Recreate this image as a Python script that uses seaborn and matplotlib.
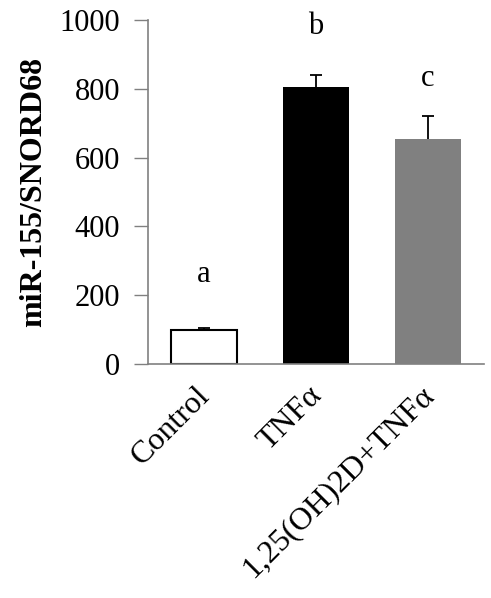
import matplotlib
matplotlib.use('Agg')
import matplotlib.pyplot as plt
import matplotlib.transforms as mtransforms
import seaborn as sns
import numpy as np

# data
groups = ['Control', 'TNFα', '1,25(OH)2D+TNFα']
values = [100, 804, 653]
errors = [5, 36, 67]
letters = ['a', 'b', 'c']
letter_y = [259, 980, 829]
colors = ['white', 'black', '#808080']
edges = ['black', 'none', 'none']

sns.set_style('white')
plt.rcParams['font.family'] = ['Liberation Serif', 'DejaVu Serif']
plt.rcParams['text.color'] = 'black'
plt.rcParams['xtick.color'] = 'black'
plt.rcParams['ytick.color'] = 'black'
plt.rcParams['axes.labelcolor'] = 'black'

fig = plt.figure(figsize=(4.91, 5.98), dpi=100)
ax = fig.add_axes([0.301, 0.391, 0.685, 0.576])

sns.barplot(x=groups, y=values, hue=groups, palette=colors, edgecolor='black',
            linewidth=1.5, width=0.59, legend=False, ax=ax)
for p, ec in zip(ax.patches, edges):
    p.set_edgecolor(ec)
eb = ax.errorbar(np.arange(len(groups)), values, yerr=[np.zeros(len(groups)), errors],
                 fmt='none', ecolor='black', elinewidth=1.3, capsize=4.5, capthick=1.3)
# only the upper cap, like the original
eb[1][0].set_visible(False)

for i, (t, yy) in enumerate(zip(letters, letter_y)):
    ax.text(i, yy, t, ha='center', va='center', fontsize=22)

ax.set_ylim(0, 1000)
ax.set_xlim(-0.5, 2.5)
ax.set_yticks([0, 200, 400, 600, 800, 1000])
ax.tick_params(axis='y', labelsize=22, length=10, width=1, color='#808080',
               direction='out', left=True, pad=10)
ax.tick_params(axis='x', labelsize=23, length=0, pad=12)
offset = mtransforms.ScaledTranslation(-9 / 100, 0, fig.dpi_scale_trans)
for lab in ax.get_xticklabels():
    lab.set_rotation(45)
    lab.set_ha('right')
    lab.set_rotation_mode('anchor')
    lab.set_transform(lab.get_transform() + offset)
ax.set_ylabel('miR-155/SNORD68', fontsize=23, fontweight='bold', labelpad=8)

for s in ['top', 'right']:
    ax.spines[s].set_visible(False)
for s in ['left', 'bottom']:
    ax.spines[s].set_color('#808080')
    ax.spines[s].set_linewidth(1.2)

fig.savefig('out.png', dpi=100)
